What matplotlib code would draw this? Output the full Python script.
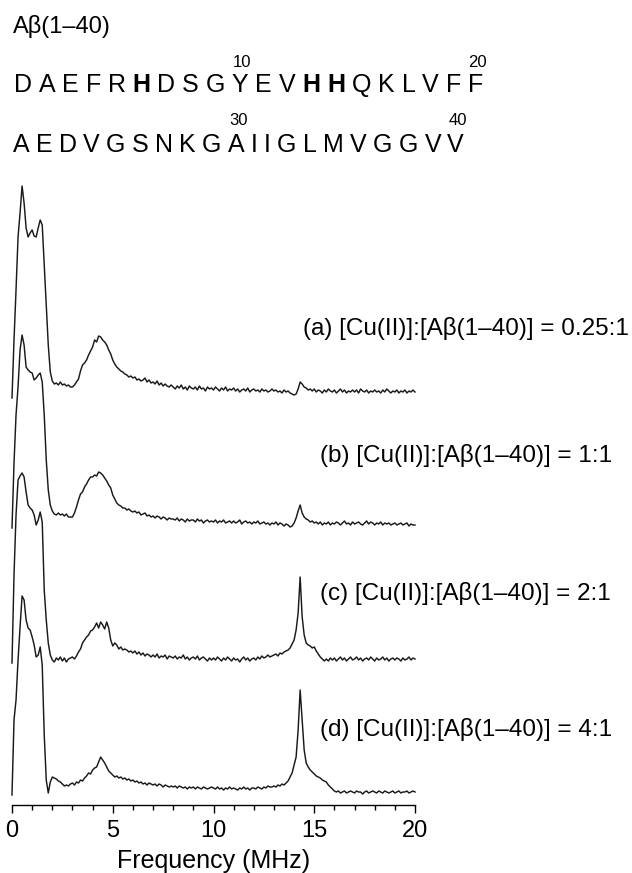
import numpy as np
import matplotlib
matplotlib.use("Agg")
import matplotlib.pyplot as plt
from matplotlib.ticker import MultipleLocator

plt.rcParams['font.family'] = ['Liberation Sans', 'DejaVu Sans']

# Frequency grid of the three-pulse ESEEM spectra (MHz)
freq = np.linspace(0.0, 20.0, 201)

# Spectral intensities (a.u.), one value per 0.1 MHz step
eseem_a = [
    -3, 55, 105, 158, 182, 209, 192, 167, 158, 162,
    165, 159, 158, 167, 175, 170, 130, 90, 50, 23,
    14, 11, 12, 10, 13, 10, 11, 9, 10, 8,
    8, 10, 13, 16, 24, 30, 32, 35, 40, 44,
    48, 55, 53, 59, 58, 55, 53, 50, 45, 41,
    35, 31, 28, 26, 24, 23, 21, 20, 18, 19,
    17, 18, 15, 16, 14, 15, 17, 13, 15, 12,
    13, 11, 14, 10, 12, 9, 11, 9, 8, 10,
    8, 6, 9, 7, 10, 6, 8, 5, 9, 7,
    6, 8, 5, 9, 6, 7, 4, 8, 6, 7,
    5, 8, 6, 4, 7, 5, 8, 4, 6, 5,
    7, 4, 6, 3, 5, 6, 4, 7, 3, 5,
    6, 4, 5, 3, 6, 4, 5, 3, 4, 6,
    4, 5, 3, 4, 2, 5, 3, 4, 2, 1,
    0, 1, 6, 13, 11, 8, 7, 5, 6, 4,
    6, 3, 5, 4, 2, 5, 3, 6, 4, 3,
    5, 2, 4, 6, 3, 5, 2, 4, 3, 5,
    3, 5, 2, 6, 4, 3, 5, 2, 4, 3,
    5, 3, 4, 2, 5, 3, 6, 4, 2, 4,
    3, 5, 2, 4, 3, 5, 2, 4, 3, 5,
    3,
]

eseem_b = [
    -3, 62, 110, 138, 175, 190, 180, 158, 155, 153,
    152, 145, 147, 150, 152, 143, 110, 65, 35, 20,
    14, 11, 10, 12, 10, 11, 9, 11, 8, 8,
    8, 12, 18, 25, 31, 33, 38, 41, 45, 48,
    48, 50, 49, 53, 52, 50, 47, 44, 40, 37,
    30, 26, 22, 20, 19, 17, 17, 15, 16, 14,
    13, 14, 12, 13, 10, 11, 12, 9, 10, 8,
    9, 7, 9, 8, 6, 8, 7, 5, 7, 6,
    6, 5, 7, 4, 6, 5, 3, 6, 4, 5,
    5, 3, 6, 4, 5, 2, 4, 5, 3, 4,
    3, 5, 2, 4, 3, 5, 2, 3, 4, 2,
    4, 2, 3, 5, 1, 3, 4, 2, 3, 1,
    3, 2, 4, 1, 2, 3, 1, 2, 0, 2,
    1, 3, 0, 2, 1, -1, 1, 0, -2, -1,
    2, 7, 14, 20, 12, 8, 6, 5, 3, 4,
    2, 3, 1, 3, 0, 2, 1, 3, 0, 2,
    1, 3, 2, 0, 2, 4, 1, 2, 0, 3,
    1, 2, 3, 1, 0, 2, 4, 1, 3, 2,
    0, 2, 1, 3, 0, 2, 1, 2, 0, 1,
    2, 0, 1, 2, 0, 1, 2, -1, 1, 0,
    0,
]

eseem_c = [
    -3, 85, 145, 180, 184, 187, 183, 168, 155, 152,
    150, 145, 135, 140, 148, 138, 70, 40, 17, 5,
    0, -2, 2, 0, 3, -1, 2, -2, 1, 2,
    3, 1, 4, 8, 11, 17, 20, 23, 25, 29,
    30, 33, 37, 32, 38, 35, 31, 38, 32, 20,
    14, 17, 15, 11, 13, 10, 11, 10, 8, 9,
    7, 9, 6, 8, 5, 7, 4, 6, 5, 3,
    5, 3, 6, 2, 4, 3, 5, 1, 4, 3,
    2, 4, 1, 3, 2, 5, 1, 3, 0, 2,
    3, 1, 4, 0, 2, 3, 1, -1, 2, 0,
    2, 0, 3, 1, -1, 2, 0, 3, 1, -1,
    2, 0, 1, -2, 1, 3, 0, 2, -1, 1,
    2, 0, 3, 1, 4, 2, 3, 5, 3, 4,
    5, 6, 4, 7, 6, 8, 9, 10, 12, 16,
    20, 30, 47, 83, 43, 25, 17, 15, 14, 12,
    13, 9, 6, 3, 1, -1, 1, -1, 2, 0,
    2, -1, 1, 3, 0, 2, -1, 1, 3, 0,
    1, 3, 0, 2, -1, 1, 2, 0, 3, 1,
    -1, 2, 0, 1, 3, 0, 2, -1, 1, 2,
    0, 2, 1, -1, 2, 0, 1, 3, 0, 2,
    1,
]

eseem_d = [
    0, 75, 95, 135, 168, 199, 195, 175, 167, 165,
    158, 150, 138, 140, 148, 130, 60, 15, 2, 13,
    18, 17, 16, 14, 13, 11, 9, 10, 9, 11,
    12, 10, 13, 12, 15, 14, 17, 19, 22, 21,
    25, 27, 28, 33, 38, 35, 32, 28, 24, 22,
    20, 18, 19, 17, 18, 16, 17, 15, 16, 14,
    15, 13, 14, 12, 13, 11, 12, 10, 12, 11,
    10, 11, 9, 11, 10, 8, 10, 9, 8, 9,
    8, 9, 7, 9, 8, 7, 8, 6, 8, 7,
    8, 6, 8, 7, 6, 8, 7, 6, 7, 8,
    7, 6, 8, 6, 7, 5, 7, 6, 8, 6,
    7, 6, 5, 7, 6, 8, 6, 7, 5, 7,
    7, 6, 8, 7, 6, 8, 7, 9, 8, 8,
    9, 8, 10, 9, 11, 10, 12, 14, 18, 22,
    30, 38, 65, 105, 75, 45, 32, 28, 25, 23,
    21, 19, 18, 17, 15, 14, 13, 10, 8, 6,
    4, 3, 4, 2, 3, 4, 2, 3, 4, 3,
    2, 4, 3, 3, 1, 3, 4, 2, 3, 4,
    3, 2, 4, 3, 2, 4, 3, 2, 3, 4,
    2, 3, 4, 2, 3, 3, 4, 2, 3, 4,
    3,
]

series = [eseem_a, eseem_b, eseem_c, eseem_d]
panel_tags = ["(a)", "(b)", "(c)", "(d)"]
ratios = ["0.25:1", "1:1", "2:1", "4:1"]

# Amyloid-beta(1-40) sequence, histidines (metal ligands) in bold
seq_line1 = "DAEFRHDSGYEVHHQKLVFF"
seq_line2 = "AEDVGSNKGAIIGLMVGGVV"
bold_residues = {6, 13, 14}
residue_marks = [10, 20, 30, 40]

# ---- layout ----
W, H = 632, 873
fig = plt.figure(figsize=(W / 100, H / 100), dpi=100)
renderer = fig.canvas.get_renderer()


def fx(px):
    return px / W


def fy(py):
    return 1 - py / H


ax = fig.add_axes([fx(12), fy(805), 403 / W, 635 / H])
stack_offsets = [410, 280, 145, 10]

for vals, off in zip(series, stack_offsets):
    ax.plot(freq, np.asarray(vals, dtype=float) + off, color="#1a1a1a",
            lw=1.05, clip_on=False, solid_joinstyle="round")

ax.set_xlim(0, 20)
ax.set_ylim(0, 635)
ax.set_yticks([])
for s in ("left", "right", "top"):
    ax.spines[s].set_visible(False)
ax.spines["bottom"].set_linewidth(1.0)
ax.xaxis.set_major_locator(MultipleLocator(5))
ax.xaxis.set_minor_locator(MultipleLocator(1))
ax.tick_params(axis="x", which="major", direction="out", length=6, width=1.0,
               labelsize=17, pad=5)
ax.tick_params(axis="x", which="minor", direction="out", length=3.5, width=1.0)
ax.set_xlabel("Frequency (MHz)", fontsize=18, labelpad=5)

# spectrum labels
label_pos = [(303, 335), (320, 462), (320, 600), (320, 736)]
for tag, r, (px, py) in zip(panel_tags, ratios, label_pos):
    fig.text(fx(px), fy(py), f"{tag} [Cu(II)]:[A\u03b2(1\u201340)] = {r}",
             fontsize=17.5, ha="left", va="baseline")

# peptide header
fig.text(fx(13), fy(33), "A\u03b2(1\u201340)", fontsize=17, ha="left", va="baseline")


def set_sequence(letters, first_index, x_left, x_right, baseline):
    """Typeset one row of residues evenly between x_left and x_right (px)."""
    texts, widths = [], []
    for k, aa in enumerate(letters):
        weight = "bold" if (first_index + k) in bold_residues else "normal"
        t = fig.text(0, fy(baseline), aa, fontsize=18, ha="left",
                     va="baseline", fontweight=weight)
        texts.append(t)
        widths.append(t.get_window_extent(renderer).width)
    gap = (x_right - x_left - sum(widths)) / (len(letters) - 1)
    centers = {}
    x = x_left
    for k, (t, w) in enumerate(zip(texts, widths)):
        t.set_x(fx(x))
        centers[first_index + k] = x + w / 2
        x += w + gap
    return centers


centers = {}
centers.update(set_sequence(seq_line1, 1, 14, 483, 91.7))
centers.update(set_sequence(seq_line2, 21, 13, 464, 151.7))

mark_y = {10: 67, 20: 67, 30: 125, 40: 125}
for n in residue_marks:
    fig.text(fx(centers[n] + 2), fy(mark_y[n]), str(n), fontsize=12,
             ha="center", va="baseline")

fig.savefig("out.png", dpi=100)
